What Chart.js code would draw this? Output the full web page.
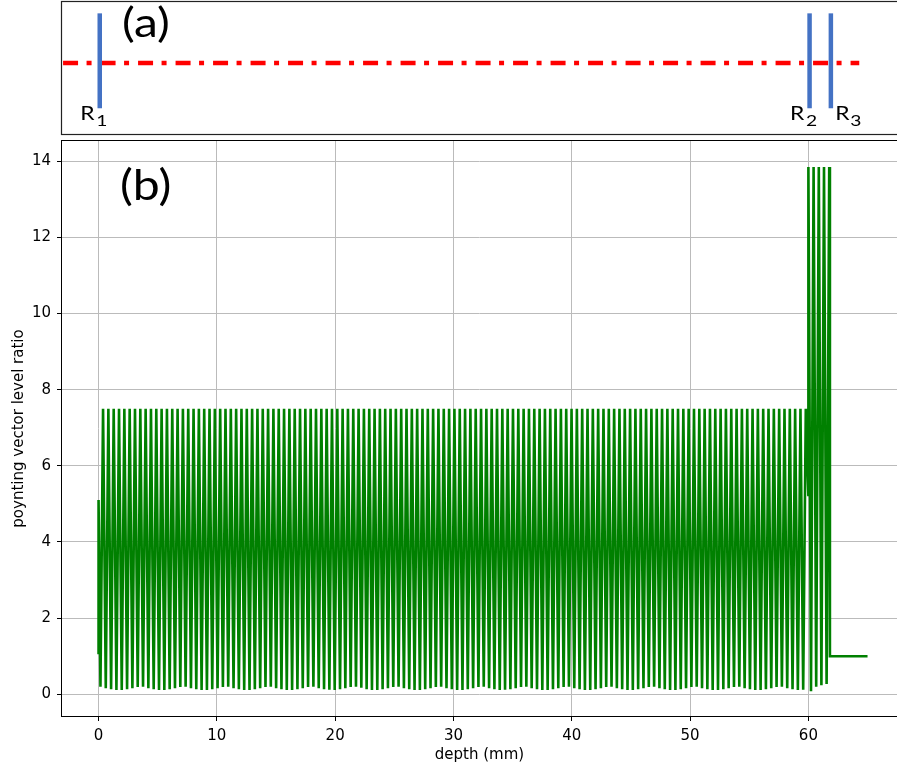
<!DOCTYPE html>
<html>
<head>
<meta charset="utf-8">
<title>poynting vector level ratio</title>
<script src="https://cdn.jsdelivr.net/npm/chart.js@4.4.1/dist/chart.umd.min.js"></script>
<style>
  html, body { margin: 0; padding: 0; background: #fff; overflow: hidden; }
  #wrap { position: relative; width: 897px; height: 769px; }
  #schematic { position: absolute; left: 0; top: 0; }
  #profile { position: absolute; left: 0; top: 136px; }
</style>
</head>
<body>
<div id="wrap">
  <canvas id="schematic" width="897" height="136"></canvas>
  <canvas id="profile" width="897" height="633"></canvas>
</div>
<script>
// (b) depth in mm and poynting vector level ratio
const entryDepth = [0, 0];
const entryRatio = [1.05, 5.1];

const bodyDepth = [
  0.16, 0.38, 0.61, 0.83, 1.06, 1.28, 1.51, 1.73, 1.96, 2.18,
  2.41, 2.63, 2.86, 3.08, 3.31, 3.53, 3.76, 3.98, 4.21, 4.43,
  4.66, 4.88, 5.11, 5.33, 5.56, 5.78, 6.01, 6.23, 6.46, 6.68,
  6.91, 7.13, 7.36, 7.58, 7.81, 8.03, 8.26, 8.48, 8.71, 8.93,
  9.16, 9.38, 9.61, 9.83, 10.06, 10.28, 10.51, 10.73, 10.96, 11.18,
  11.41, 11.63, 11.86, 12.08, 12.31, 12.53, 12.76, 12.98, 13.21, 13.43,
  13.66, 13.88, 14.11, 14.33, 14.56, 14.78, 15.01, 15.23, 15.46, 15.68,
  15.91, 16.13, 16.36, 16.58, 16.81, 17.03, 17.26, 17.48, 17.71, 17.93,
  18.16, 18.38, 18.61, 18.83, 19.06, 19.28, 19.51, 19.73, 19.96, 20.18,
  20.41, 20.63, 20.86, 21.08, 21.31, 21.53, 21.76, 21.98, 22.21, 22.43,
  22.66, 22.88, 23.11, 23.33, 23.56, 23.78, 24.01, 24.23, 24.46, 24.68,
  24.91, 25.13, 25.36, 25.58, 25.81, 26.03, 26.26, 26.48, 26.71, 26.93,
  27.16, 27.38, 27.61, 27.83, 28.06, 28.28, 28.51, 28.73, 28.96, 29.18,
  29.41, 29.63, 29.86, 30.08, 30.31, 30.53, 30.76, 30.98, 31.21, 31.43,
  31.66, 31.88, 32.11, 32.33, 32.56, 32.78, 33.01, 33.23, 33.46, 33.68,
  33.91, 34.13, 34.36, 34.58, 34.81, 35.03, 35.26, 35.48, 35.71, 35.93,
  36.16, 36.38, 36.61, 36.83, 37.06, 37.28, 37.51, 37.73, 37.96, 38.18,
  38.41, 38.63, 38.86, 39.08, 39.31, 39.53, 39.76, 39.98, 40.21, 40.43,
  40.66, 40.88, 41.11, 41.33, 41.56, 41.78, 42.01, 42.23, 42.46, 42.68,
  42.91, 43.13, 43.36, 43.58, 43.81, 44.03, 44.26, 44.48, 44.71, 44.93,
  45.16, 45.38, 45.61, 45.83, 46.06, 46.28, 46.51, 46.73, 46.96, 47.18,
  47.41, 47.63, 47.86, 48.08, 48.31, 48.53, 48.76, 48.98, 49.21, 49.43,
  49.66, 49.88, 50.11, 50.33, 50.56, 50.78, 51.01, 51.23, 51.46, 51.68,
  51.91, 52.13, 52.36, 52.58, 52.81, 53.03, 53.26, 53.48, 53.71, 53.93,
  54.16, 54.38, 54.61, 54.83, 55.06, 55.28, 55.51, 55.73, 55.96, 56.18,
  56.41, 56.63, 56.86, 57.08, 57.31, 57.53, 57.76, 57.98, 58.21, 58.43,
  58.66, 58.88, 59.11, 59.33, 59.56, 59.78
];
const bodyRatio = [
  0.20, 7.5, 0.16, 7.5, 0.13, 7.5, 0.11, 7.5, 0.11, 7.5,
  0.13, 7.5, 0.16, 7.5, 0.19, 7.5, 0.20, 7.5, 0.16, 7.5,
  0.13, 7.5, 0.11, 7.5, 0.11, 7.5, 0.13, 7.5, 0.16, 7.5,
  0.19, 7.5, 0.20, 7.5, 0.16, 7.5, 0.13, 7.5, 0.11, 7.5,
  0.11, 7.5, 0.13, 7.5, 0.16, 7.5, 0.19, 7.5, 0.20, 7.5,
  0.16, 7.5, 0.13, 7.5, 0.11, 7.5, 0.11, 7.5, 0.13, 7.5,
  0.16, 7.5, 0.19, 7.5, 0.20, 7.5, 0.16, 7.5, 0.13, 7.5,
  0.11, 7.5, 0.11, 7.5, 0.13, 7.5, 0.16, 7.5, 0.19, 7.5,
  0.20, 7.5, 0.16, 7.5, 0.13, 7.5, 0.12, 7.5, 0.11, 7.5,
  0.13, 7.5, 0.16, 7.5, 0.19, 7.5, 0.20, 7.5, 0.17, 7.5,
  0.13, 7.5, 0.11, 7.5, 0.11, 7.5, 0.13, 7.5, 0.16, 7.5,
  0.19, 7.5, 0.20, 7.5, 0.16, 7.5, 0.13, 7.5, 0.11, 7.5,
  0.11, 7.5, 0.13, 7.5, 0.16, 7.5, 0.19, 7.5, 0.20, 7.5,
  0.16, 7.5, 0.13, 7.5, 0.11, 7.5, 0.11, 7.5, 0.13, 7.5,
  0.16, 7.5, 0.19, 7.5, 0.20, 7.5, 0.16, 7.5, 0.13, 7.5,
  0.11, 7.5, 0.12, 7.5, 0.13, 7.5, 0.16, 7.5, 0.19, 7.5,
  0.20, 7.5, 0.16, 7.5, 0.13, 7.5, 0.11, 7.5, 0.11, 7.5,
  0.13, 7.5, 0.16, 7.5, 0.19, 7.5, 0.20, 7.5, 0.16, 7.5,
  0.13, 7.5, 0.11, 7.5, 0.11, 7.5, 0.13, 7.5, 0.16, 7.5,
  0.19, 7.5, 0.20, 7.5, 0.16, 7.5, 0.13, 7.5, 0.11, 7.5,
  0.11, 7.5, 0.13, 7.5, 0.16, 7.5, 0.19, 7.5, 0.20, 7.5,
  0.16, 7.5, 0.13, 7.5, 0.11, 7.5, 0.11, 7.5, 0.13, 7.5,
  0.16, 7.5, 0.19, 7.5, 0.20, 7.5, 0.16, 7.5, 0.13, 7.5,
  0.11, 7.5, 0.11, 7.5, 0.13, 7.5, 0.16, 7.5, 0.19, 7.5,
  0.20, 7.5, 0.16, 7.5, 0.13, 7.5, 0.11, 7.5, 0.11, 7.5,
  0.13, 7.5, 0.16, 7.5, 0.19, 7.5, 0.20, 7.5, 0.16, 7.5,
  0.13, 7.5, 0.11, 7.5, 0.12, 7.5
];

const tailDepth = [60.0, 60.0, 60.22, 60.44, 60.66, 60.88, 61.10, 61.32, 61.54, 61.76, 61.82, 65.0];
const tailRatio = [5.2, 13.85, 0.08, 13.85, 0.20, 13.85, 0.24, 13.85, 0.27, 13.85, 1.0, 1.0];

const xTicks = [0, 10, 20, 30, 40, 50, 60];
const yTicks = [0, 2, 4, 6, 8, 10, 12, 14];

// (a) schematic: reflector positions (mm) and the beam extent
const reflectorDepth = [0.1, 60.1, 61.9];
const reflectorNames = ['1', '2', '3'];
const beamDepth = [-3.0, 64.3];

const X_MIN = -3.09, X_MAX = 67.49;
const tickFont = { family: 'DejaVu Sans', size: 15 };
const labelFont = 'Lato, "Open Sans", sans-serif';
const STRETCH = 1.2; // the schematic lettering is a bit wide

const depth = entryDepth.concat(bodyDepth, tailDepth);
const ratio = entryRatio.concat(bodyRatio, tailRatio);
const points = depth.map((d, i) => ({ x: d, y: ratio[i] }));

function wideText(ctx, text, x, y, font, stretch) {
  ctx.save();
  ctx.font = font;
  ctx.translate(x, y);
  ctx.scale(stretch || STRETCH, 1);
  ctx.fillText(text, 0, 0);
  ctx.restore();
}

// ---- panel (a)
const BEAM_Y = 0.538, BAR_LO = 0.195, BAR_HI = 0.914;

const schematicDatasets = reflectorDepth.map(d => ({
  data: [{ x: d, y: BAR_LO }, { x: d, y: BAR_HI }],
  borderColor: '#4472c4',
  borderWidth: 4.5,
  pointRadius: 0,
  borderCapStyle: 'butt'
}));
schematicDatasets.push({
  data: beamDepth.map(d => ({ x: d, y: BEAM_Y })),
  borderColor: '#ff0000',
  borderWidth: 4.5,
  borderDash: [15, 8.5, 5, 9],
  pointRadius: 0,
  borderCapStyle: 'butt'
});

const schematicDecor = {
  id: 'schematicDecor',
  afterDraw(chart) {
    const { ctx, chartArea: ca, scales } = chart;
    ctx.save();
    ctx.strokeStyle = '#222';
    ctx.lineWidth = 1.2;
    ctx.strokeRect(ca.left - 0.5, ca.top - 0.5, ca.right - ca.left + 20, ca.bottom - ca.top + 1);

    ctx.fillStyle = '#000';
    ctx.textBaseline = 'alphabetic';
    ctx.textAlign = 'left';
    wideText(ctx, '(a)', 122, 37, '40px ' + labelFont);

    const sides = ['left', 'left', 'right'];
    reflectorDepth.forEach((d, i) => {
      const px = scales.x.getPixelForValue(d);
      const rx = sides[i] === 'left' ? px - 19.5 : px + 4.5;
      const sx = sides[i] === 'left' ? px - 3.5 : px + 19.5;
      wideText(ctx, 'R', rx, 119.5, '19px ' + labelFont);
      wideText(ctx, reflectorNames[i], sx, 126, '16px ' + labelFont);
    });
    ctx.restore();
  }
};

new Chart(document.getElementById('schematic'), {
  type: 'line',
  data: { datasets: schematicDatasets },
  options: {
    responsive: false,
    animation: false,
    layout: { padding: { left: 62, top: 2, right: 0, bottom: 2 } },
    plugins: { legend: { display: false }, tooltip: { enabled: false } },
    scales: {
      x: { type: 'linear', min: X_MIN, max: X_MAX, display: false },
      y: { type: 'linear', min: 0, max: 1, display: false }
    }
  },
  plugins: [schematicDecor]
});

// ---- panel (b)
const frame = {
  id: 'frame',
  afterDraw(chart) {
    const { ctx, chartArea: ca } = chart;
    ctx.save();
    ctx.strokeStyle = '#000';
    ctx.lineWidth = 1;
    ctx.strokeRect(ca.left - 0.5, ca.top - 0.5, ca.right - ca.left + 20, ca.bottom - ca.top + 1);
    ctx.fillStyle = '#000';
    ctx.textBaseline = 'alphabetic';
    ctx.textAlign = 'left';
    wideText(ctx, '(b)', 120, 200 - 136, '43px ' + labelFont, 1.12);
    ctx.restore();
  }
};

new Chart(document.getElementById('profile'), {
  type: 'line',
  data: {
    datasets: [{
      data: points,
      borderColor: '#008000',
      borderWidth: 2.6,
      pointRadius: 0,
      tension: 0,
      fill: false
    }]
  },
  options: {
    responsive: false,
    animation: false,
    layout: { padding: { left: 0, top: 5, right: 0, bottom: 0 } },
    plugins: { legend: { display: false }, tooltip: { enabled: false } },
    scales: {
      x: {
        type: 'linear',
        min: X_MIN,
        max: X_MAX,
        afterBuildTicks: axis => { axis.ticks = xTicks.map(v => ({ value: v })); },
        afterFit: axis => { axis.height = 53; axis.paddingLeft = 0; axis.paddingRight = 0; },
        grid: { color: '#bbbbbb', lineWidth: 1, tickColor: '#000', tickLength: 5 },
        border: { display: false },
        ticks: { font: tickFont, color: '#000', padding: 6, maxRotation: 0 },
        title: { display: true, text: 'depth (mm)', font: tickFont, color: '#000', padding: { top: 0, bottom: 5 } }
      },
      y: {
        type: 'linear',
        min: -0.57,
        max: 14.53,
        afterBuildTicks: axis => { axis.ticks = yTicks.map(v => ({ value: v })); },
        afterFit: axis => { axis.width = 62; axis.paddingTop = 0; axis.paddingBottom = 0; },
        grid: { color: '#bbbbbb', lineWidth: 1, tickColor: '#000', tickLength: 5 },
        border: { display: false },
        ticks: { font: tickFont, color: '#000', padding: 6 },
        title: { display: true, text: 'poynting vector level ratio', font: tickFont, color: '#000', padding: { top: 10, bottom: 0 } }
      }
    }
  },
  plugins: [frame]
});
</script>
</body>
</html>
